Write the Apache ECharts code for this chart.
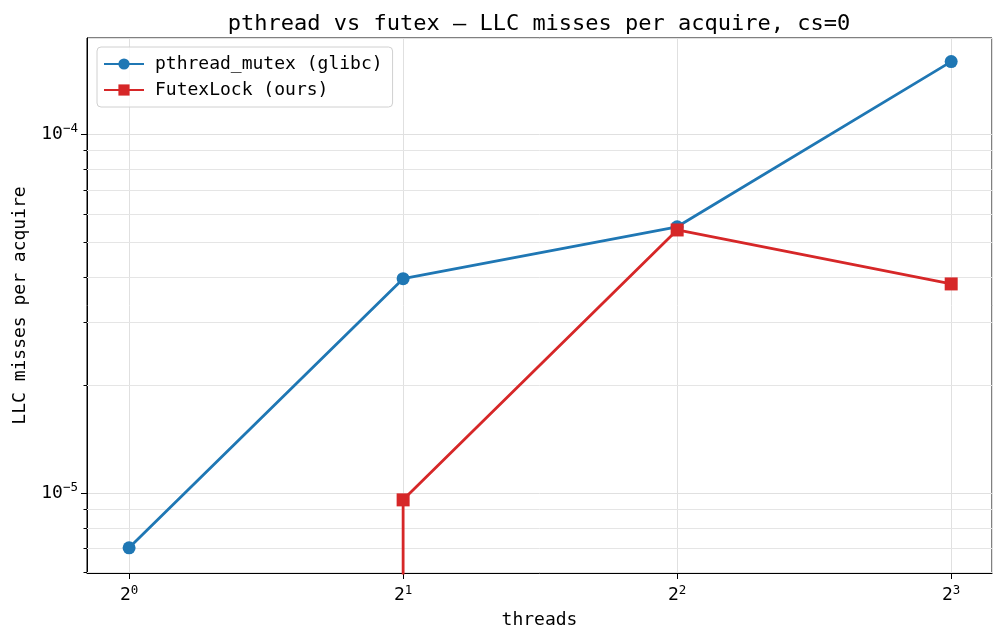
<!DOCTYPE html>
<html>
<head>
<meta charset="utf-8">
<script src="https://cdn.jsdelivr.net/npm/echarts@6/dist/echarts.min.js"></script>
<style>
  html, body { margin: 0; padding: 0; background: #fff; }
  #chart { width: 1003px; height: 641px; }
</style>
</head>
<body>
<div id="chart"></div>
<script>
  // threads (log2 x axis) vs LLC misses per acquire (log10 y axis)
  var threads = [1, 2, 4, 8];
  var pthreadMisses = [7.03e-6, 3.95e-5, 5.51e-5, 1.59e-4];
  var futexMisses = [0, 9.56e-6, 5.40e-5, 3.82e-5];   // 0 at 1 thread -> falls off the log axis
  var yMinorTicks = [6e-6, 7e-6, 8e-6, 9e-6, 2e-5, 3e-5, 4e-5, 5e-5, 6e-5, 7e-5, 8e-5, 9e-5];

  var FONT = 'DejaVu Sans Mono';
  var chart = echarts.init(document.getElementById('chart'));

  /*zero on a log axis: drop straight down from the next point, like matplotlib*/
  function toPoints(xs, ys) {
    var pts = [];
    for (var i = 0; i < xs.length; i++) {
      if (ys[i] > 0) {
        pts.push([xs[i], ys[i]]);
      } else {
        var j = i + 1;
        while (j < xs.length && !(ys[j] > 0)) j++;
        if (j < xs.length) pts.push({value: [xs[j], 1e-12], symbol: 'none'});
      }
    }
    return pts;
  }

  function isPow(v, base) {
    var e = Math.log(v) / Math.log(base);
    return Math.abs(e - Math.round(e)) < 1e-6 ? Math.round(e) : null;
  }

  var supRich = {
    base: {fontFamily: FONT, fontSize: 18, color: '#000'},
    sup: {fontFamily: FONT, fontSize: 12.5, color: '#000', padding: [0, 0, 10, 0]}
  };

  chart.setOption({
    animation: false,
    backgroundColor: '#fff',
    title: {
      text: 'pthread vs futex — LLC misses per acquire, cs=0',
      left: 534, top: 8, textAlign: 'center',
      textStyle: {fontFamily: FONT, fontSize: 22, fontWeight: 'normal', color: '#000'}
    },
    grid: {
      left: 87, right: 11, top: 38, bottom: 68,
      show: true, borderColor: '#000', borderWidth: 1, backgroundColor: 'transparent'
    },
    legend: {
      orient: 'vertical', left: 97, top: 47,
      padding: [8, 10, 8, 6],
      itemWidth: 40, itemHeight: 14, itemGap: 8,
      borderColor: '#d0d0d0', borderWidth: 1, borderRadius: 4,
      backgroundColor: 'rgba(255,255,255,0.8)',
      textStyle: {fontFamily: FONT, fontSize: 18, color: '#000', padding: [0, 0, 0, 6]},
      data: ['pthread_mutex (glibc)', 'FutexLock (ours)']
    },
    xAxis: {
      type: 'log', logBase: 2, min: 0.899, max: 8.87,
      name: 'threads', nameLocation: 'middle', nameGap: 38,
      nameTextStyle: {fontFamily: FONT, fontSize: 18, color: '#000'},
      axisLine: {lineStyle: {color: '#000', width: 1}},
      axisTick: {length: 6, lineStyle: {color: '#000'}},
      axisLabel: {
        margin: 11, showMinLabel: false, showMaxLabel: false,
        formatter: function (v) {
          var e = isPow(v, 2);
          return e === null ? '' : '{base|2}{sup|' + e + '}';
        },
        rich: supRich
      },
      splitLine: {show: true, lineStyle: {color: '#e0e0e0', width: 1}}
    },
    yAxis: {
      type: 'log', logBase: 10, min: 5.98e-6, max: 1.85e-4,
      name: 'LLC misses per acquire', nameLocation: 'middle', nameGap: 58,
      nameTextStyle: {fontFamily: FONT, fontSize: 18, color: '#000'},
      axisLine: {show: true, lineStyle: {color: '#000', width: 1}},
      axisTick: {length: 6, lineStyle: {color: '#000'}},
      axisLabel: {
        margin: 9, showMinLabel: false, showMaxLabel: false,
        formatter: function (v) {
          var e = isPow(v, 10);
          return e === null ? '' : '{base|10}{sup|' + String(e).replace('-', '\u2212') + '}';
        },
        rich: supRich
      },
      splitLine: {show: true, lineStyle: {color: '#e0e0e0', width: 1}}
    },
    series: [
      {
        name: 'pthread_mutex (glibc)', type: 'line',
        data: toPoints(threads, pthreadMisses),
        symbol: 'circle', symbolSize: 13,
        lineStyle: {color: '#1f77b4', width: 2.8},
        itemStyle: {color: '#1f77b4'},
        z: 3
      },
      {
        name: 'FutexLock (ours)', type: 'line',
        data: toPoints(threads, futexMisses),
        symbol: 'rect', symbolSize: 13,
        lineStyle: {color: '#d62728', width: 2.8},
        itemStyle: {color: '#d62728'},
        clip: true,
        z: 4
      }
    ]
  });

  /*minor gridlines and minor ticks of the log y axis*/
  var left = 87, right = 1003 - 11;
  var extras = [];
  yMinorTicks.forEach(function (v) {
    var y = Math.round(chart.convertToPixel({yAxisIndex: 0}, v)) + 0.5;
    extras.push({
      type: 'line', silent: true, z: 1,
      shape: {x1: left, y1: y, x2: right, y2: y},
      style: {stroke: '#e5e5e5', lineWidth: 1}
    });
    extras.push({
      type: 'line', silent: true, z: 5,
      shape: {x1: left - 3.5, y1: y, x2: left, y2: y},
      style: {stroke: '#000', lineWidth: 1}
    });
  });
  chart.setOption({graphic: extras});
</script>
</body>
</html>
